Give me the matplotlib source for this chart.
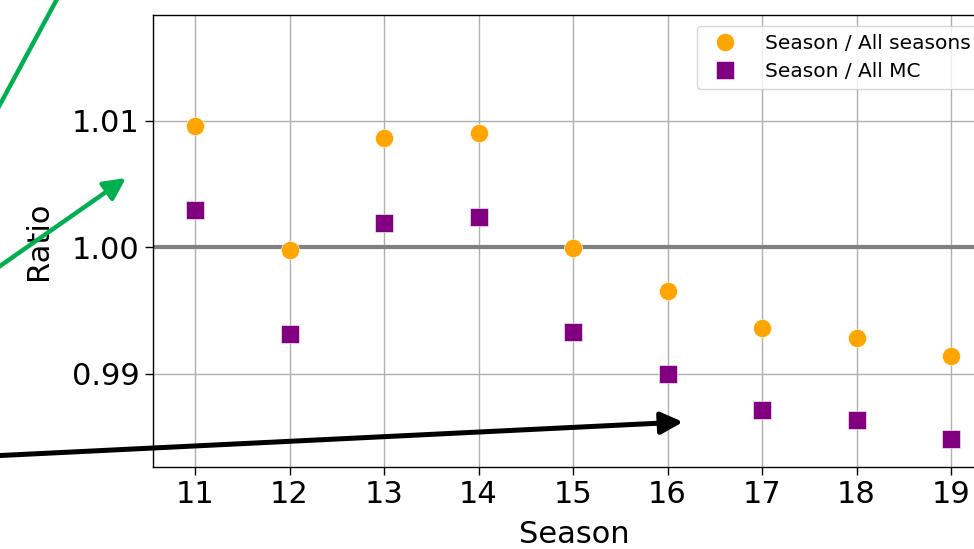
import matplotlib
matplotlib.use("Agg")
import matplotlib.pyplot as plt
import matplotlib.transforms as mtransforms
from matplotlib.patches import FancyArrowPatch

# Per-season ratios
seasons = [11, 12, 13, 14, 15, 16, 17, 18, 19]
ratio_all_seasons = [1.0096, 0.99976, 1.00858, 1.0090, 0.99992, 0.99652, 0.99360, 0.99281, 0.99138]
ratio_all_mc = [1.00293, 0.99312, 1.0019, 1.00237, 0.99328, 0.9900, 0.98708, 0.98636, 0.98486]
y_ticks = [0.99, 1.00, 1.01]

W, H = 974, 549
fig = plt.figure(figsize=(W / 100, H / 100), dpi=100)

left, right, top, bottom = 153, 995, 15, 467
ax = fig.add_axes([left / W, 1 - bottom / H, (right - left) / W, (bottom - top) / H])

ax.axhline(1.0, color="#808080", lw=3.0, zorder=1.5)
ax.plot(seasons, ratio_all_seasons, "o", color="orange", ms=13, mec="white", mew=0.4,
        label="Season / All seasons", zorder=3)
ax.plot(seasons, ratio_all_mc, "s", color="purple", ms=12.5, mec="white", mew=0.4,
        label="Season / All MC", zorder=3)

ax.set_xlim(10.555, 19.465)
ax.set_ylim(0.98261, 1.01834)
ax.set_xticks(seasons)
ax.set_yticks(y_ticks)
ax.set_yticklabels([f"{v:.2f}" for v in y_ticks])
ax.grid(True, color="#b0b0b0", lw=1.0)
ax.set_axisbelow(True)
ax.tick_params(labelsize=22, length=6, width=1)
for s in ax.spines.values():
    s.set_linewidth(1.0)
ax.set_xlabel("Season", fontsize=22, labelpad=8)
ax.set_ylabel("Ratio", fontsize=22, labelpad=14)

ax.legend(loc="upper left", bbox_to_anchor=(697 / W, 1 - 26 / H),
          bbox_transform=fig.transFigure, borderaxespad=0, fontsize=14.5,
          handletextpad=1.0, labelspacing=0.45, framealpha=0.8, edgecolor="#cccccc")

# Pixel coordinates (origin at top-left) for the overlaid arrows
px = mtransforms.Affine2D().scale(1 / W, -1 / H).translate(0, 1) + fig.transFigure

green = "#00b050"
head = "-|>,head_length=6,head_width=3"
fig.add_artist(FancyArrowPatch((-30, 160), (70, -25), transform=px, color=green,
                               lw=3.2, arrowstyle="-", clip_on=False))
fig.add_artist(FancyArrowPatch((-30, 287), (126, 178), transform=px, color=green,
                               lw=3.2, arrowstyle=head, mutation_scale=2.2,
                               shrinkA=0, shrinkB=0, clip_on=False))
fig.add_artist(FancyArrowPatch((-30, 457), (683, 422), transform=px, color="black",
                               lw=3.6, arrowstyle=head, mutation_scale=2.2,
                               shrinkA=0, shrinkB=0, clip_on=False))

fig.savefig("out.png", dpi=100)
